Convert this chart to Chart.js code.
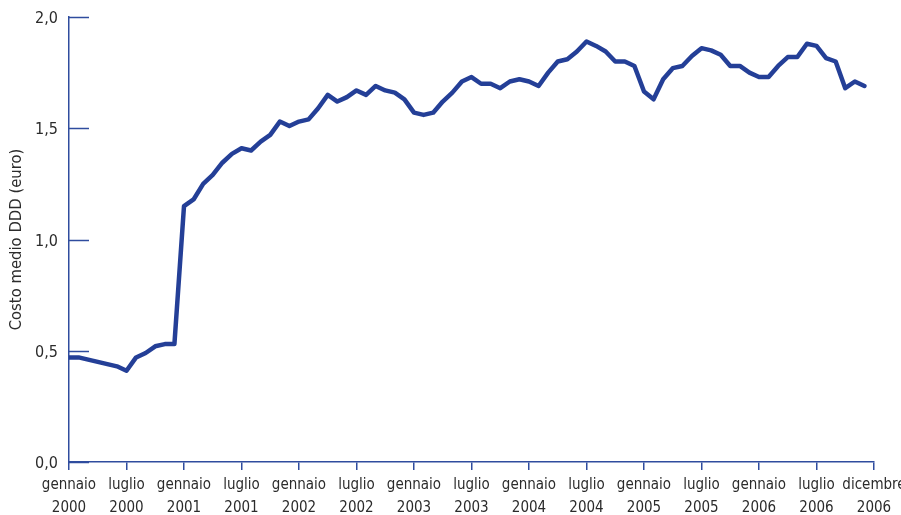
<!DOCTYPE html>
<html>
<head>
<meta charset="utf-8">
<script src="https://cdn.jsdelivr.net/npm/chart.js@4/dist/chart.umd.min.js"></script>
<style>
  html, body { margin: 0; padding: 0; background: #fff; }
  #wrap { width: 901px; height: 515px; }
</style>
</head>
<body>
<div id="wrap"><canvas id="costoChart" width="901" height="515"></canvas></div>
<script>
/* costo medio DDD, mensile gennaio 2000 - dicembre 2006 */
const valori = [
  0.47, 0.47, 0.46, 0.45, 0.44, 0.43, 0.41, 0.47, 0.49, 0.52, 0.53, 0.53,   // 2000
  1.15, 1.18, 1.25, 1.29, 1.345, 1.385, 1.41, 1.40, 1.44, 1.47, 1.53, 1.51, // 2001
  1.53, 1.54, 1.59, 1.65, 1.62, 1.64, 1.67, 1.65, 1.69, 1.67, 1.66, 1.63,   // 2002
  1.57, 1.56, 1.57, 1.62, 1.66, 1.71, 1.73, 1.70, 1.70, 1.68, 1.71, 1.72,   // 2003
  1.71, 1.69, 1.75, 1.80, 1.81, 1.845, 1.89, 1.87, 1.845, 1.80, 1.80, 1.78, // 2004
  1.665, 1.63, 1.72, 1.77, 1.78, 1.825, 1.86, 1.85, 1.83, 1.78, 1.78, 1.75, // 2005
  1.73, 1.73, 1.78, 1.82, 1.82, 1.88, 1.87, 1.815, 1.80, 1.68, 1.71, 1.69   // 2006
];

// etichette asse x, una ogni 6 mesi
const etichetteX = [
  ['gennaio', '2000'], ['luglio', '2000'],
  ['gennaio', '2001'], ['luglio', '2001'],
  ['gennaio', '2002'], ['luglio', '2002'],
  ['gennaio', '2003'], ['luglio', '2003'],
  ['gennaio', '2004'], ['luglio', '2004'],
  ['gennaio', '2005'], ['luglio', '2005'],
  ['gennaio', '2006'], ['luglio', '2006'],
  ['dicembre', '2006']
];

const tickY = [0, 0.5, 1.0, 1.5, 2.0];
const titoloY = 'Costo medio DDD (euro)';

const BLU_ASSE = '#2f4c9e';
const BLU_LINEA = '#243f97';
const TESTO = '#2b2b2b';
const FONT = "'DejaVu Sans Condensed', 'Liberation Sans Narrow', sans-serif";

// tacche dell'asse y rivolte verso l'interno del grafico
const tacchePlugin = {
  id: 'tacche',
  beforeDatasetsDraw(chart) {
    const y = chart.scales.y;
    const ctx = chart.ctx;
    ctx.save();
    ctx.strokeStyle = BLU_ASSE;
    ctx.lineWidth = 1.5;
    tickY.forEach(v => {
      const py = Math.round(y.getPixelForValue(v)) + 0.5;
      ctx.beginPath();
      ctx.moveTo(y.right, py);
      ctx.lineTo(y.right + 20, py);
      ctx.stroke();
    });
    ctx.restore();
  }
};

const ctx = document.getElementById('costoChart');
new Chart(ctx, {
  type: 'line',
  data: {
    datasets: [{
      data: valori.map((v, i) => ({ x: i, y: v })),
      borderColor: BLU_LINEA,
      borderWidth: 4.5,
      borderJoinStyle: 'round',
      borderCapStyle: 'round',
      pointRadius: 0,
      tension: 0,
      fill: false
    }]
  },
  options: {
    responsive: false,
    animation: false,
    layout: { padding: { left: 0, right: 27, top: 17, bottom: 0 } },
    plugins: {
      legend: { display: false },
      tooltip: { enabled: false }
    },
    scales: {
      x: {
        type: 'linear',
        min: 0,
        max: 84,
        afterBuildTicks(scale) {
          scale.ticks = etichetteX.map((_, i) => ({ value: i * 6 }));
        },
        afterFit(scale) {
          scale.height = 53;
          scale.paddingLeft = 0;
          scale.paddingRight = 0;
        },
        ticks: {
          autoSkip: false,
          maxRotation: 0,
          padding: 4,
          color: TESTO,
          font: { family: FONT, size: 15, lineHeight: 1.5 },
          callback: (val) => etichetteX[Math.round(val / 6)]
        },
        grid: {
          drawOnChartArea: false,
          drawTicks: true,
          tickLength: 8,
          color: BLU_ASSE,
          lineWidth: 1.5
        },
        border: { display: true, color: BLU_ASSE, width: 1.5 }
      },
      y: {
        min: 0,
        max: 2,
        afterBuildTicks(scale) {
          scale.ticks = tickY.map(v => ({ value: v }));
        },
        afterFit(scale) {
          scale.width = 69;
          scale.paddingTop = 0;
          scale.paddingBottom = 0;
        },
        ticks: {
          padding: 11,
          labelOffset: 2,
          color: TESTO,
          font: { family: FONT, size: 16 },
          callback: (val) => val.toFixed(1).replace('.', ',')
        },
        grid: { display: false, drawTicks: false },
        border: { display: true, color: BLU_ASSE, width: 1.5 },
        title: {
          display: true,
          text: titoloY,
          color: TESTO,
          font: { family: FONT, size: 16.5 },
          padding: { top: 7, bottom: 0 }
        }
      }
    }
  },
  plugins: [tacchePlugin]
});
</script>
</body>
</html>
